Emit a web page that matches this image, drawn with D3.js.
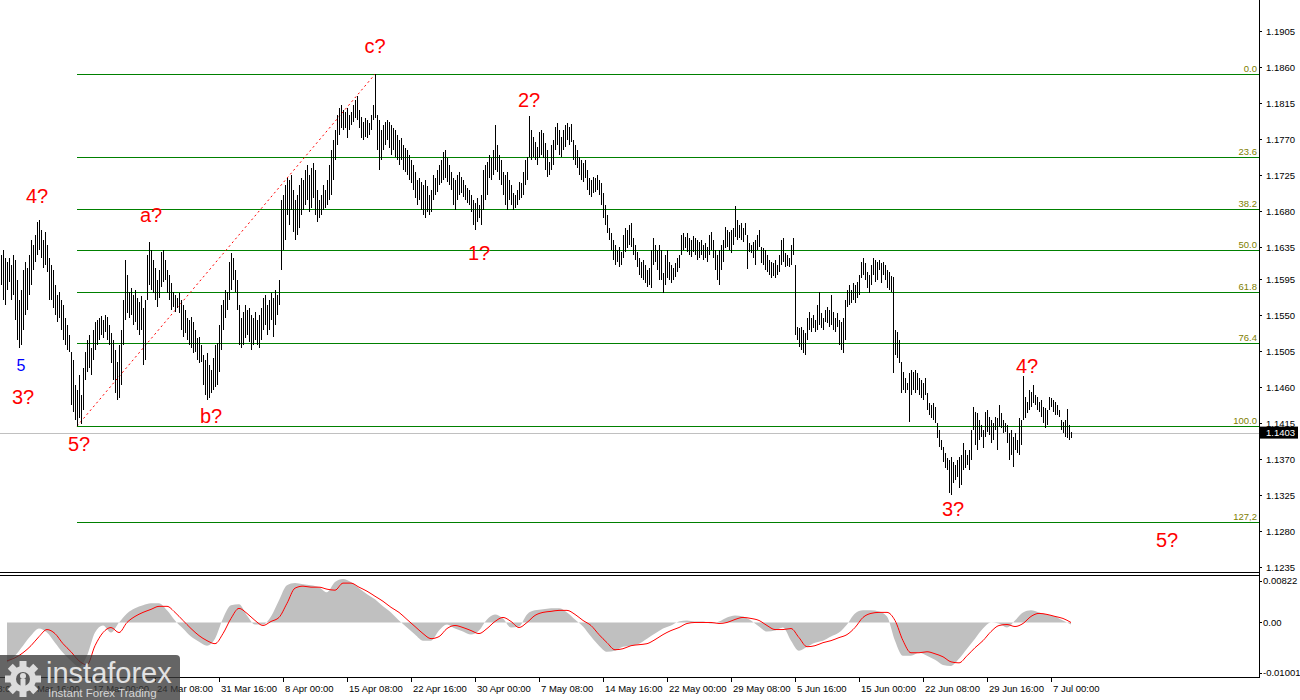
<!DOCTYPE html>
<html>
<head>
<meta charset="utf-8">
<script src="https://cdn.jsdelivr.net/npm/d3@7"></script>
<style>
  html, body { margin: 0; padding: 0; background: #fff; }
  svg { display: block; font-family: "Liberation Sans", Arial, sans-serif; }
</style>
</head>
<body>
<svg id="chart" width="1300" height="700"></svg>
<script>
// EURUSD H4, bar highs / lows
var highs = [
  1.1625,1.1631,1.1621,1.1616,1.1621,1.1613,1.1625,1.1619,1.1594,1.1569,
  1.1581,1.1606,1.1616,1.1609,1.1625,1.1644,1.1638,1.1650,1.1666,1.1669,
  1.1656,1.1644,1.1654,1.1638,1.1621,1.1613,1.1606,1.1588,1.1575,1.1579,
  1.1569,1.1563,1.1546,1.1538,1.1525,1.1504,1.1494,1.1463,1.1456,1.1475,
  1.1450,1.1484,1.1504,1.1519,1.1525,1.1509,1.1531,1.1541,1.1544,1.1546,
  1.1549,1.1544,1.1550,1.1548,1.1538,1.1528,1.1519,1.1506,1.1491,1.1513,
  1.1531,1.1569,1.1619,1.1600,1.1579,1.1584,1.1575,1.1581,1.1571,1.1566,
  1.1574,1.1559,1.1569,1.1625,1.1641,1.1631,1.1619,1.1609,1.1594,1.1606,
  1.1629,1.1631,1.1619,1.1606,1.1600,1.1590,1.1579,1.1575,1.1571,1.1578,
  1.1569,1.1563,1.1556,1.1546,1.1544,1.1548,1.1541,1.1531,1.1521,1.1523,
  1.1513,1.1500,1.1494,1.1503,1.1488,1.1481,1.1496,1.1513,1.1515,1.1538,
  1.1563,1.1569,1.1581,1.1579,1.1616,1.1628,1.1621,1.1606,1.1594,1.1563,
  1.1546,1.1554,1.1563,1.1556,1.1559,1.1550,1.1546,1.1554,1.1544,1.1550,
  1.1559,1.1571,1.1575,1.1563,1.1569,1.1578,1.1571,1.1581,1.1575,1.1594,
  1.1694,1.1700,1.1713,1.1721,1.1719,1.1725,1.1706,1.1694,1.1700,1.1713,
  1.1721,1.1719,1.1731,1.1738,1.1725,1.1734,1.1740,1.1731,1.1706,1.1694,
  1.1700,1.1713,1.1706,1.1719,1.1738,1.1756,1.1769,1.1781,1.1800,1.1809,
  1.1813,1.1806,1.1804,1.1809,1.1800,1.1804,1.1813,1.1819,1.1824,1.1806,
  1.1798,1.1791,1.1796,1.1794,1.1790,1.1800,1.1813,1.1851,1.1800,1.1794,
  1.1781,1.1788,1.1791,1.1794,1.1791,1.1788,1.1784,1.1781,1.1775,1.1769,
  1.1771,1.1763,1.1759,1.1756,1.1750,1.1744,1.1738,1.1729,1.1719,1.1721,
  1.1716,1.1713,1.1719,1.1711,1.1700,1.1706,1.1725,1.1721,1.1731,1.1738,
  1.1744,1.1754,1.1756,1.1746,1.1738,1.1729,1.1721,1.1719,1.1725,1.1729,
  1.1723,1.1719,1.1713,1.1709,1.1706,1.1700,1.1694,1.1690,1.1696,1.1688,
  1.1700,1.1731,1.1738,1.1741,1.1750,1.1746,1.1756,1.1788,1.1763,1.1750,
  1.1744,1.1729,1.1725,1.1729,1.1719,1.1713,1.1703,1.1700,1.1706,1.1716,
  1.1715,1.1729,1.1744,1.1748,1.1799,1.1781,1.1773,1.1766,1.1760,1.1779,
  1.1781,1.1778,1.1765,1.1756,1.1741,1.1763,1.1769,1.1785,1.1790,1.1781,
  1.1773,1.1781,1.1788,1.1790,1.1785,1.1789,1.1769,1.1763,1.1756,1.1748,
  1.1744,1.1740,1.1744,1.1731,1.1721,1.1719,1.1723,1.1721,1.1725,1.1719,
  1.1715,1.1703,1.1688,1.1675,1.1659,1.1653,1.1644,1.1638,1.1631,1.1635,
  1.1629,1.1650,1.1659,1.1656,1.1663,1.1665,1.1646,1.1638,1.1629,1.1621,
  1.1616,1.1619,1.1613,1.1606,1.1609,1.1631,1.1646,1.1638,1.1631,1.1638,
  1.1631,1.1603,1.1625,1.1631,1.1616,1.1613,1.1609,1.1615,1.1621,1.1625,
  1.1650,1.1653,1.1648,1.1653,1.1646,1.1644,1.1649,1.1646,1.1644,1.1641,
  1.1644,1.1638,1.1640,1.1635,1.1650,1.1654,1.1644,1.1631,1.1625,1.1631,
  1.1638,1.1644,1.1660,1.1656,1.1654,1.1656,1.1659,1.1686,1.1669,1.1663,
  1.1665,1.1659,1.1665,1.1650,1.1640,1.1638,1.1641,1.1644,1.1650,1.1656,
  1.1635,1.1634,1.1631,1.1625,1.1619,1.1616,1.1615,1.1619,1.1613,1.1625,
  1.1644,1.1646,1.1628,1.1625,1.1621,1.1638,1.1646,1.1613,1.1535,1.1534,
  1.1535,1.1531,1.1528,1.1546,1.1554,1.1546,1.1550,1.1544,1.1563,1.1579,
  1.1553,1.1546,1.1556,1.1560,1.1556,1.1575,1.1554,1.1546,1.1553,1.1544,
  1.1541,1.1546,1.1569,1.1581,1.1588,1.1581,1.1590,1.1588,1.1591,1.1600,
  1.1616,1.1621,1.1615,1.1604,1.1600,1.1613,1.1621,1.1619,1.1616,1.1619,
  1.1615,1.1616,1.1613,1.1606,1.1604,1.1599,1.1598,1.1531,1.1529,1.1519,
  1.1491,1.1479,1.1471,1.1465,1.1478,1.1481,1.1479,1.1481,1.1478,1.1471,
  1.1469,1.1465,1.1471,1.1453,1.1440,1.1438,1.1440,1.1435,1.1415,1.1406,
  1.1394,1.1385,1.1378,1.1371,1.1369,1.1373,1.1366,1.1363,1.1369,1.1373,
  1.1375,1.1390,1.1381,1.1375,1.1381,1.1406,1.1435,1.1429,1.1428,1.1419,
  1.1413,1.1406,1.1429,1.1431,1.1423,1.1419,1.1415,1.1423,1.1421,1.1438,
  1.1428,1.1419,1.1415,1.1413,1.1403,1.1406,1.1398,1.1403,1.1394,1.1421,
  1.1419,1.1474,1.1448,1.1441,1.1456,1.1454,1.1463,1.1450,1.1448,1.1441,
  1.1444,1.1435,1.1434,1.1431,1.1448,1.1446,1.1444,1.1441,1.1438,1.1431,
  1.1419,1.1416,1.1419,1.1433,1.1413,1.1404
]
var lows = [
  1.1588,1.1569,1.1563,1.1581,1.1591,1.1569,1.1575,1.1544,1.1519,1.1509,
  1.1513,1.1531,1.1550,1.1556,1.1575,1.1588,1.1606,1.1616,1.1625,1.1631,
  1.1621,1.1609,1.1613,1.1604,1.1569,1.1569,1.1559,1.1550,1.1541,1.1546,
  1.1531,1.1519,1.1513,1.1506,1.1504,1.1438,1.1429,1.1419,1.1411,1.1421,
  1.1414,1.1431,1.1469,1.1479,1.1484,1.1475,1.1494,1.1506,1.1513,1.1519,
  1.1525,1.1521,1.1529,1.1519,1.1513,1.1490,1.1469,1.1453,1.1444,1.1446,
  1.1463,1.1513,1.1544,1.1553,1.1546,1.1550,1.1538,1.1541,1.1531,1.1525,
  1.1531,1.1488,1.1494,1.1569,1.1588,1.1581,1.1578,1.1569,1.1560,1.1571,
  1.1585,1.1591,1.1594,1.1578,1.1569,1.1556,1.1560,1.1554,1.1559,1.1553,
  1.1531,1.1523,1.1528,1.1519,1.1513,1.1509,1.1503,1.1504,1.1494,1.1490,
  1.1491,1.1463,1.1450,1.1444,1.1446,1.1453,1.1456,1.1460,1.1463,1.1479,
  1.1506,1.1531,1.1546,1.1556,1.1569,1.1581,1.1594,1.1579,1.1556,1.1513,
  1.1509,1.1513,1.1521,1.1525,1.1516,1.1506,1.1513,1.1519,1.1513,1.1509,
  1.1519,1.1531,1.1538,1.1525,1.1531,1.1544,1.1523,1.1538,1.1550,1.1563,
  1.1606,1.1631,1.1644,1.1675,1.1663,1.1681,1.1654,1.1644,1.1650,1.1659,
  1.1675,1.1681,1.1688,1.1694,1.1679,1.1684,1.1696,1.1675,1.1666,1.1671,
  1.1675,1.1681,1.1684,1.1688,1.1694,1.1700,1.1719,1.1744,1.1763,1.1775,
  1.1784,1.1781,1.1784,1.1771,1.1781,1.1788,1.1791,1.1796,1.1794,1.1784,
  1.1771,1.1769,1.1773,1.1771,1.1775,1.1781,1.1794,1.1796,1.1756,1.1731,
  1.1744,1.1756,1.1763,1.1769,1.1759,1.1750,1.1756,1.1748,1.1744,1.1738,
  1.1744,1.1731,1.1729,1.1725,1.1719,1.1715,1.1706,1.1696,1.1688,1.1694,
  1.1681,1.1675,1.1671,1.1679,1.1675,1.1679,1.1694,1.1700,1.1704,1.1713,
  1.1715,1.1719,1.1721,1.1716,1.1713,1.1706,1.1688,1.1681,1.1694,1.1700,
  1.1703,1.1698,1.1694,1.1690,1.1688,1.1679,1.1663,1.1656,1.1666,1.1671,
  1.1663,1.1681,1.1694,1.1700,1.1721,1.1719,1.1725,1.1731,1.1729,1.1719,
  1.1713,1.1700,1.1688,1.1681,1.1694,1.1688,1.1681,1.1684,1.1688,1.1694,
  1.1696,1.1700,1.1713,1.1719,1.1748,1.1744,1.1748,1.1744,1.1738,1.1746,
  1.1750,1.1746,1.1731,1.1723,1.1725,1.1731,1.1738,1.1756,1.1763,1.1750,
  1.1748,1.1756,1.1760,1.1769,1.1763,1.1766,1.1744,1.1738,1.1734,1.1725,
  1.1719,1.1716,1.1721,1.1706,1.1700,1.1698,1.1703,1.1704,1.1706,1.1700,
  1.1688,1.1671,1.1663,1.1653,1.1644,1.1631,1.1619,1.1613,1.1616,1.1610,
  1.1613,1.1621,1.1629,1.1634,1.1638,1.1635,1.1625,1.1619,1.1610,1.1600,
  1.1596,1.1594,1.1590,1.1585,1.1588,1.1584,1.1613,1.1616,1.1606,1.1594,
  1.1594,1.1578,1.1588,1.1596,1.1594,1.1590,1.1594,1.1598,1.1604,1.1609,
  1.1625,1.1631,1.1634,1.1629,1.1625,1.1623,1.1629,1.1625,1.1619,1.1621,
  1.1625,1.1619,1.1621,1.1616,1.1625,1.1631,1.1621,1.1606,1.1594,1.1588,
  1.1606,1.1616,1.1634,1.1635,1.1631,1.1628,1.1638,1.1648,1.1644,1.1646,
  1.1644,1.1641,1.1650,1.1608,1.1629,1.1628,1.1621,1.1613,1.1631,1.1635,
  1.1615,1.1613,1.1606,1.1604,1.1600,1.1596,1.1599,1.1596,1.1600,1.1604,
  1.1613,1.1616,1.1610,1.1611,1.1610,1.1613,1.1625,1.1525,1.1519,1.1510,
  1.1506,1.1503,1.1500,1.1519,1.1531,1.1529,1.1534,1.1529,1.1531,1.1538,
  1.1534,1.1531,1.1541,1.1540,1.1535,1.1538,1.1531,1.1529,1.1535,1.1513,
  1.1506,1.1503,1.1519,1.1560,1.1563,1.1565,1.1569,1.1565,1.1571,1.1575,
  1.1596,1.1600,1.1594,1.1584,1.1578,1.1588,1.1600,1.1591,1.1594,1.1606,
  1.1590,1.1600,1.1594,1.1584,1.1581,1.1579,1.1478,1.1500,1.1496,1.1490,
  1.1453,1.1456,1.1453,1.1456,1.1416,1.1450,1.1456,1.1453,1.1456,1.1450,
  1.1446,1.1444,1.1450,1.1431,1.1425,1.1421,1.1419,1.1415,1.1396,1.1385,
  1.1381,1.1366,1.1359,1.1356,1.1328,1.1325,1.1340,1.1344,1.1348,1.1334,
  1.1338,1.1356,1.1359,1.1363,1.1356,1.1369,1.1406,1.1388,1.1381,1.1394,
  1.1398,1.1384,1.1398,1.1404,1.1400,1.1390,1.1394,1.1406,1.1381,1.1410,
  1.1409,1.1403,1.1404,1.1390,1.1369,1.1375,1.1360,1.1381,1.1378,1.1375,
  1.1388,1.1419,1.1421,1.1428,1.1431,1.1435,1.1440,1.1438,1.1431,1.1429,
  1.1423,1.1415,1.1409,1.1413,1.1431,1.1435,1.1429,1.1425,1.1425,1.1423,
  1.1406,1.1403,1.1398,1.1396,1.1394,1.1396
]

// MACD panel, one value every 4 bars (bars 3, 7, 11, ...)
var macdMain = [
  -0.0080,-0.0066,-0.0046,-0.0026,-0.0012,-0.0020,-0.0040,-0.0060,-0.0076,-0.0088,
  -0.0066,-0.0020,-0.0006,-0.0020,0.0000,0.0018,0.0028,0.0034,0.0038,0.0038,
  0.0024,0.0004,-0.0012,-0.0028,-0.0038,-0.0046,-0.0032,0.0008,0.0034,0.0036,
  0.0014,-0.0004,-0.0004,0.0012,0.0044,0.0074,0.0078,0.0076,0.0074,0.0070,
  0.0060,0.0080,0.0086,0.0080,0.0068,0.0056,0.0046,0.0032,0.0020,0.0004,
  -0.0010,-0.0024,-0.0036,-0.0036,-0.0016,-0.0004,-0.0012,-0.0018,-0.0024,-0.0016,
  0.0006,0.0016,0.0008,-0.0010,-0.0008,0.0016,0.0024,0.0026,0.0028,0.0028,
  0.0020,0.0006,-0.0008,-0.0028,-0.0046,-0.0058,-0.0056,-0.0048,-0.0046,-0.0042,
  -0.0032,-0.0022,-0.0012,-0.0006,0.0002,0.0004,0.0002,0.0002,-0.0002,0.0002,
  0.0010,0.0014,0.0012,0.0004,-0.0008,-0.0018,-0.0016,-0.0010,-0.0036,-0.0056,
  -0.0048,-0.0040,-0.0036,-0.0028,-0.0020,-0.0004,0.0018,0.0024,0.0024,0.0022,
  0.0012,-0.0036,-0.0066,-0.0066,-0.0060,-0.0066,-0.0074,-0.0084,-0.0086,-0.0072,
  -0.0052,-0.0032,-0.0012,0.0000,-0.0002,-0.0010,0.0004,0.0020,0.0024,0.0020,
  0.0016,0.0012,0.0004,-0.0004
]
var macdSignal = [
  -0.0076,-0.0070,-0.0060,-0.0046,-0.0028,-0.0014,-0.0022,-0.0042,-0.0058,-0.0076,
  -0.0084,-0.0046,-0.0020,-0.0010,-0.0020,0.0000,0.0012,0.0020,0.0026,0.0032,
  0.0032,0.0020,0.0004,-0.0012,-0.0026,-0.0036,-0.0042,-0.0022,0.0008,0.0028,
  0.0018,0.0004,-0.0006,0.0002,0.0010,0.0038,0.0068,0.0072,0.0070,0.0070,
  0.0066,0.0064,0.0078,0.0078,0.0070,0.0062,0.0052,0.0042,0.0030,0.0020,
  0.0006,-0.0008,-0.0022,-0.0032,-0.0028,-0.0012,-0.0006,-0.0010,-0.0016,-0.0022,
  -0.0012,0.0002,0.0010,0.0002,-0.0010,0.0000,0.0014,0.0020,0.0022,0.0024,
  0.0024,0.0016,0.0004,-0.0006,-0.0024,-0.0040,-0.0054,-0.0052,-0.0046,-0.0044,
  -0.0042,-0.0034,-0.0024,-0.0016,-0.0010,-0.0002,0.0000,0.0000,0.0000,-0.0002,
  0.0000,0.0006,0.0010,0.0008,0.0004,-0.0006,-0.0014,-0.0014,-0.0012,-0.0030,
  -0.0048,-0.0046,-0.0040,-0.0036,-0.0030,-0.0024,-0.0010,0.0010,0.0018,0.0020,
  0.0020,0.0004,-0.0036,-0.0060,-0.0060,-0.0058,-0.0062,-0.0068,-0.0078,-0.0080,
  -0.0066,-0.0050,-0.0036,-0.0018,-0.0006,-0.0004,-0.0008,-0.0002,0.0012,0.0018,
  0.0016,0.0012,0.0008,0.0000
]

var priceTicks = ['1.1905','1.1860','1.1815','1.1770','1.1725','1.1680','1.1635','1.1595',
  '1.1550','1.1505','1.1460','1.1415','1.1370','1.1325','1.1280','1.1235']
var macdTickValues = [0.00822, 0, -0.01001]
var macdTickLabels = ['0.00822', '0.00', '-0.01001']

var timeTickBars = [-19, 13, 45, 77, 109, 141, 173, 205, 237, 269, 301, 333, 365, 397, 429, 461, 493, 525]
var timeTickLabels = ['2 Mar 08:00', '9 Mar 16:00', '17 Mar 00:00', '24 Mar 08:00', '31 Mar 16:00',
  '8 Apr 00:00', '15 Apr 08:00', '22 Apr 16:00', '30 Apr 00:00', '7 May 08:00', '14 May 16:00',
  '22 May 00:00', '29 May 08:00', '5 Jun 16:00', '15 Jun 00:00', '22 Jun 08:00', '29 Jun 16:00', '7 Jul 00:00']

// fibonacci grid, drawn from the 5? low to the c? high
var fibLowBar = 38, fibHighBar = 187
var fibLow = 1.1411, fibHigh = 1.1851
var fibRatios = [0, 23.6, 38.2, 50, 61.8, 76.4, 100, 127.2]
var fibLabels = ['0.0', '23.6', '38.2', '50.0', '61.8', '76.4', '100.0', '127,2']

var lastPrice = 1.1403

// wave marks: text, bar, price of the baseline
var waveText = ['4?', 'a?', '5', '3?', '5?', 'b?', 'c?', '1?', '2?', '3?', '4?', '5?']
var waveBar = [18, 75, 10, 11, 39, 105, 187, 239, 264, 476, 513, 583]
var wavePrice = [1.1690, 1.1666, 1.1480, 1.1439, 1.1380, 1.1415, 1.1878, 1.1619, 1.1810, 1.1299, 1.1478, 1.1260]

var svg = d3.select('#chart')

var axisX = 1259
var barStep = 2
var mainBottom = 572
var subTop = 575
var subBottom = 677

var x = d3.scaleLinear().domain([0, 1]).range([1, 1 + barStep])
var y = d3.scaleLinear().domain([1.1235, 1.1905]).range([567, 31])
var ym = d3.scaleLinear().domain([-0.01001, 0.00822]).range([673, 581])

var crisp = function (v) { return Math.round(v) + 0.5 }

// fibonacci lines
var fibs = fibRatios.map(function (r, i) {
  return {price: fibHigh - r / 100 * (fibHigh - fibLow), label: fibLabels[i]}
})
var fibG = svg.append('g')
fibG.selectAll('line').data(fibs).join('line')
  .attr('x1', x(fibLowBar)).attr('x2', axisX)
  .attr('y1', d => crisp(y(d.price))).attr('y2', d => crisp(y(d.price)))
  .attr('stroke', '#008000').attr('stroke-width', 1)
  .attr('shape-rendering', 'crispEdges')
fibG.selectAll('text').data(fibs).join('text')
  .attr('x', axisX - 2).attr('y', d => y(d.price) - 2)
  .attr('text-anchor', 'end')
  .attr('font-size', '9.5px')
  .attr('fill', '#808000')
  .text(d => d.label)

// trend line of the grid
svg.append('line')
  .attr('x1', x(fibLowBar)).attr('y1', y(fibLow))
  .attr('x2', x(fibHighBar)).attr('y2', y(fibHigh))
  .attr('stroke', '#ff0000').attr('stroke-width', 1)
  .attr('stroke-dasharray', '2,3')

// current price line
svg.append('line')
  .attr('x1', 0).attr('x2', axisX)
  .attr('y1', crisp(y(lastPrice))).attr('y2', crisp(y(lastPrice)))
  .attr('stroke', '#c0c0c0').attr('shape-rendering', 'crispEdges')

// price bars
svg.append('g').selectAll('line').data(highs).join('line')
  .attr('x1', (d, i) => Math.round(x(i)) + 0.5)
  .attr('x2', (d, i) => Math.round(x(i)) + 0.5)
  .attr('y1', d => y(d))
  .attr('y2', (d, i) => y(lows[i]))
  .attr('stroke', '#000').attr('stroke-width', 1)
  .attr('shape-rendering', 'crispEdges')

// wave labels
svg.append('g').selectAll('text').data(waveText).join('text')
  .attr('x', (d, i) => x(waveBar[i]))
  .attr('y', (d, i) => y(wavePrice[i]))
  .attr('text-anchor', 'middle')
  .attr('font-size', d => d === '5' ? '16px' : '20px')
  .attr('fill', d => d === '5' ? '#0000ff' : '#ff0000')
  .text(d => d)

// frames
svg.append('line')
  .attr('x1', 0).attr('x2', axisX).attr('y1', mainBottom + 0.5).attr('y2', mainBottom + 0.5)
  .attr('stroke', '#000').attr('shape-rendering', 'crispEdges')
svg.append('rect')
  .attr('x', -1).attr('y', subTop + 0.5)
  .attr('width', axisX + 1.5).attr('height', subBottom - subTop)
  .attr('fill', 'none').attr('stroke', '#000').attr('shape-rendering', 'crispEdges')
svg.append('line')
  .attr('x1', axisX + 0.5).attr('x2', axisX + 0.5).attr('y1', 0).attr('y2', subBottom + 1)
  .attr('stroke', '#000').attr('shape-rendering', 'crispEdges')

// MACD histogram and signal
var macdX = function (d, i) { return x(i * 4 + 3) }
svg.append('path')
  .datum(macdMain)
  .attr('fill', '#c0c0c0')
  .attr('d', d3.area().x(macdX).y0(ym(0)).y1(d => ym(d)).curve(d3.curveMonotoneX))
svg.append('path')
  .datum(macdSignal)
  .attr('fill', 'none').attr('stroke', '#ff0000').attr('stroke-width', 1)
  .attr('d', d3.line().x(macdX).y(d => ym(d)).curve(d3.curveMonotoneX))

// price axis
var yAxis = svg.append('g')
  .attr('transform', 'translate(' + axisX + ',0)')
  .call(d3.axisRight(y).tickValues(priceTicks.map(Number)).tickFormat(d3.format('.4f'))
    .tickSize(3).tickPadding(4).tickSizeOuter(0))
yAxis.select('.domain').remove()
yAxis.selectAll('line').attr('stroke', '#000').attr('shape-rendering', 'crispEdges')
yAxis.selectAll('text').attr('font-family', '"Liberation Sans", Arial, sans-serif')
  .attr('font-size', '9.5px').attr('fill', '#000')

// MACD axis
var mAxis = svg.append('g').attr('transform', 'translate(' + axisX + ',0)')
mAxis.selectAll('line').data(macdTickValues).join('line')
  .attr('x1', 0).attr('x2', 3)
  .attr('y1', d => crisp(ym(d))).attr('y2', d => crisp(ym(d)))
  .attr('stroke', '#000').attr('shape-rendering', 'crispEdges')
mAxis.selectAll('text').data(macdTickLabels).join('text')
  .attr('x', 4).attr('y', (d, i) => ym(macdTickValues[i]))
  .attr('dy', '0.32em')
  .attr('font-size', '9.5px').attr('fill', '#000')
  .text(d => d)

// current price tag
var tag = svg.append('g').attr('transform', 'translate(' + (axisX + 1) + ',' + y(lastPrice) + ')')
tag.append('rect').attr('x', 0).attr('y', -6).attr('width', 38).attr('height', 12).attr('fill', '#000')
tag.append('text').attr('x', 6).attr('dy', '0.34em')
  .attr('font-size', '9.5px').attr('fill', '#fff')
  .text(d3.format('.4f')(lastPrice))

// time axis
var tAxis = svg.append('g').attr('transform', 'translate(0,' + (subBottom + 1) + ')')
tAxis.selectAll('line').data(timeTickBars).join('line')
  .attr('x1', d => crisp(x(d))).attr('x2', d => crisp(x(d)))
  .attr('y1', 0).attr('y2', 4)
  .attr('stroke', '#000').attr('shape-rendering', 'crispEdges')
tAxis.selectAll('text').data(timeTickLabels).join('text')
  .attr('x', (d, i) => x(timeTickBars[i]) + 2)
  .attr('y', 14)
  .attr('font-size', '9.5px').attr('fill', '#000')
  .text(d => d)

// watermark
var logo = svg.append('g').attr('transform', 'translate(0,655)')
logo.append('rect').attr('x', -4).attr('y', 0).attr('width', 184).attr('height', 48).attr('rx', 4)
  .attr('fill', '#3a3a3a').attr('opacity', 0.78)
var gear = logo.append('g').attr('transform', 'translate(23,24)').attr('fill', '#dcdcdc')
d3.range(8).forEach(function (k) {
  gear.append('rect').attr('x', -3.5).attr('y', -18).attr('width', 7).attr('height', 8)
    .attr('transform', 'rotate(' + (k * 45) + ')')
})
gear.append('circle').attr('r', 13)
gear.append('circle').attr('r', 7).attr('fill', '#5a5a5a')
gear.append('circle').attr('cy', -3).attr('r', 3).attr('fill', '#dcdcdc')
gear.append('rect').attr('x', -2.5).attr('y', 0).attr('width', 5).attr('height', 12).attr('fill', '#dcdcdc')
logo.append('text').attr('x', 46).attr('y', 28)
  .attr('font-size', '29px').attr('fill', '#e2e2e2')
  .text('instaforex')
logo.append('text').attr('x', 48).attr('y', 42)
  .attr('font-size', '11.5px').attr('fill', '#d6d6d6')
  .text('Instant Forex Trading')
</script>
</body>
</html>
